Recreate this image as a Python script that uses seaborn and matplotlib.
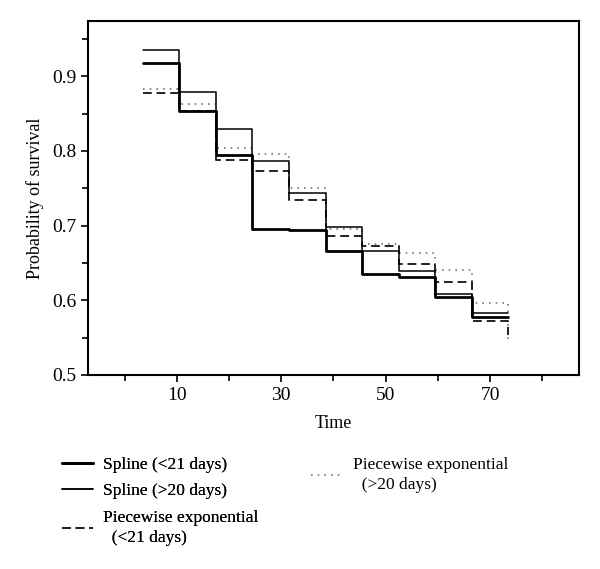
import pandas as pd
import numpy as np
import matplotlib
matplotlib.use('Agg')
import matplotlib.pyplot as plt
import seaborn as sns
from matplotlib.ticker import FixedLocator

# --- DATA ---
# interval edges (time) of the step functions
edges = [3.5, 10.5, 17.5, 24.5, 31.5, 38.5, 45.5, 52.5, 59.5, 66.5, 73.5]
spline_lt21 = [0.918, 0.854, 0.795, 0.695, 0.694, 0.666, 0.635, 0.631, 0.604, 0.578]
spline_gt20 = [0.935, 0.879, 0.829, 0.786, 0.744, 0.698, 0.666, 0.639, 0.609, 0.583]
pexp_lt21 = [0.877, 0.854, 0.788, 0.773, 0.735, 0.686, 0.673, 0.648, 0.624, 0.572]
pexp_gt20 = [0.883, 0.863, 0.804, 0.796, 0.750, 0.696, 0.675, 0.663, 0.641, 0.597]
# value at the end of follow-up (final drop of the piecewise curves)
end_values = {'spline_lt21': 0.578, 'spline_gt20': 0.583, 'pexp_lt21': 0.553, 'pexp_gt20': 0.542}

labels = {
    'spline_lt21': 'Spline (<21 days)',
    'spline_gt20': 'Spline (>20 days)',
    'pexp_lt21': 'Piecewise exponential\n  (<21 days)',
    'pexp_gt20': 'Piecewise exponential\n  (>20 days)',
}
series = {'spline_lt21': spline_lt21, 'spline_gt20': spline_gt20,
          'pexp_lt21': pexp_lt21, 'pexp_gt20': pexp_gt20}
styles = {
    'spline_lt21': dict(color='black', lw=2.0, ls='-'),
    'spline_gt20': dict(color='black', lw=1.1, ls='-'),
    'pexp_lt21': dict(color='#222222', lw=1.4, ls=(0, (4.5, 2.5))),
    'pexp_gt20': dict(color='#777777', lw=1.2, ls=(0, (1, 3))),
}

# build a long dataframe (step-post points)
rows = []
for key, vals in series.items():
    ys = vals + [end_values[key]]
    for x, y in zip(edges, ys):
        rows.append({'time': x, 'prob': y, 'series': key})
df = pd.DataFrame(rows)

# --- PLOT ---
sns.set_style('white')
plt.rcParams['font.family'] = ['Liberation Serif', 'DejaVu Serif']
plt.rcParams['text.color'] = 'black'
plt.rcParams['axes.labelcolor'] = 'black'
plt.rcParams['xtick.color'] = 'black'
plt.rcParams['ytick.color'] = 'black'

fig = plt.figure(figsize=(6, 5.69), dpi=100)
ax = fig.add_axes([0.1467, 0.341, 0.818, 0.622])

handles = {}
for key in ['pexp_gt20', 'pexp_lt21', 'spline_gt20', 'spline_lt21']:
    d = df[df['series'] == key]
    sns.lineplot(data=d, x='time', y='prob', ax=ax, estimator=None,
                 drawstyle='steps-post', color=styles[key]['color'],
                 linewidth=styles[key]['lw'], linestyle=styles[key]['ls'],
                 label=labels[key], legend=False)
    handles[key] = ax.lines[-1]

ax.set_xlim(-7, 87)
ax.set_ylim(0.5, 0.974)
ax.xaxis.set_major_locator(FixedLocator([10, 30, 50, 70]))
ax.xaxis.set_minor_locator(FixedLocator([0, 20, 40, 60, 80]))
ax.yaxis.set_major_locator(FixedLocator([0.5, 0.6, 0.7, 0.8, 0.9]))
ax.yaxis.set_minor_locator(FixedLocator([0.55, 0.65, 0.75, 0.85, 0.95]))
ax.set_yticklabels(['0.5', '0.6', '0.7', '0.8', '0.9'])
ax.tick_params(which='both', direction='out', bottom=True, left=True,
               top=False, right=False, labelsize=14, width=1.2, color='black',
               labelcolor='black')
ax.tick_params(which='major', length=5)
ax.tick_params(which='minor', length=4)
for sp in ax.spines.values():
    sp.set_linewidth(1.5)
    sp.set_color('black')

ax.set_xlabel('Time', fontsize=13, labelpad=8)
ax.set_ylabel('Probability of survival', fontsize=13, labelpad=6)

# legends below the plot
leg1 = fig.legend([handles['spline_lt21'], handles['spline_gt20'], handles['pexp_lt21']],
                  [labels['spline_lt21'], labels['spline_gt20'], labels['pexp_lt21']],
                  loc='upper left', bbox_to_anchor=(0.077, 0.225), frameon=False,
                  fontsize=12.5, handlelength=1.8, labelspacing=0.6, handletextpad=0.6)
fig.add_artist(leg1)
leg2 = fig.legend([handles['pexp_gt20']], [labels['pexp_gt20']],
                  loc='upper left', bbox_to_anchor=(0.493, 0.225), frameon=False,
                  fontsize=12.5, handlelength=1.8, labelspacing=0.6, handletextpad=0.6)
for leg in (leg1, leg2):
    for t in leg.get_texts():
        t.set_linespacing(1.35)

fig.savefig('out.png', dpi=100)
